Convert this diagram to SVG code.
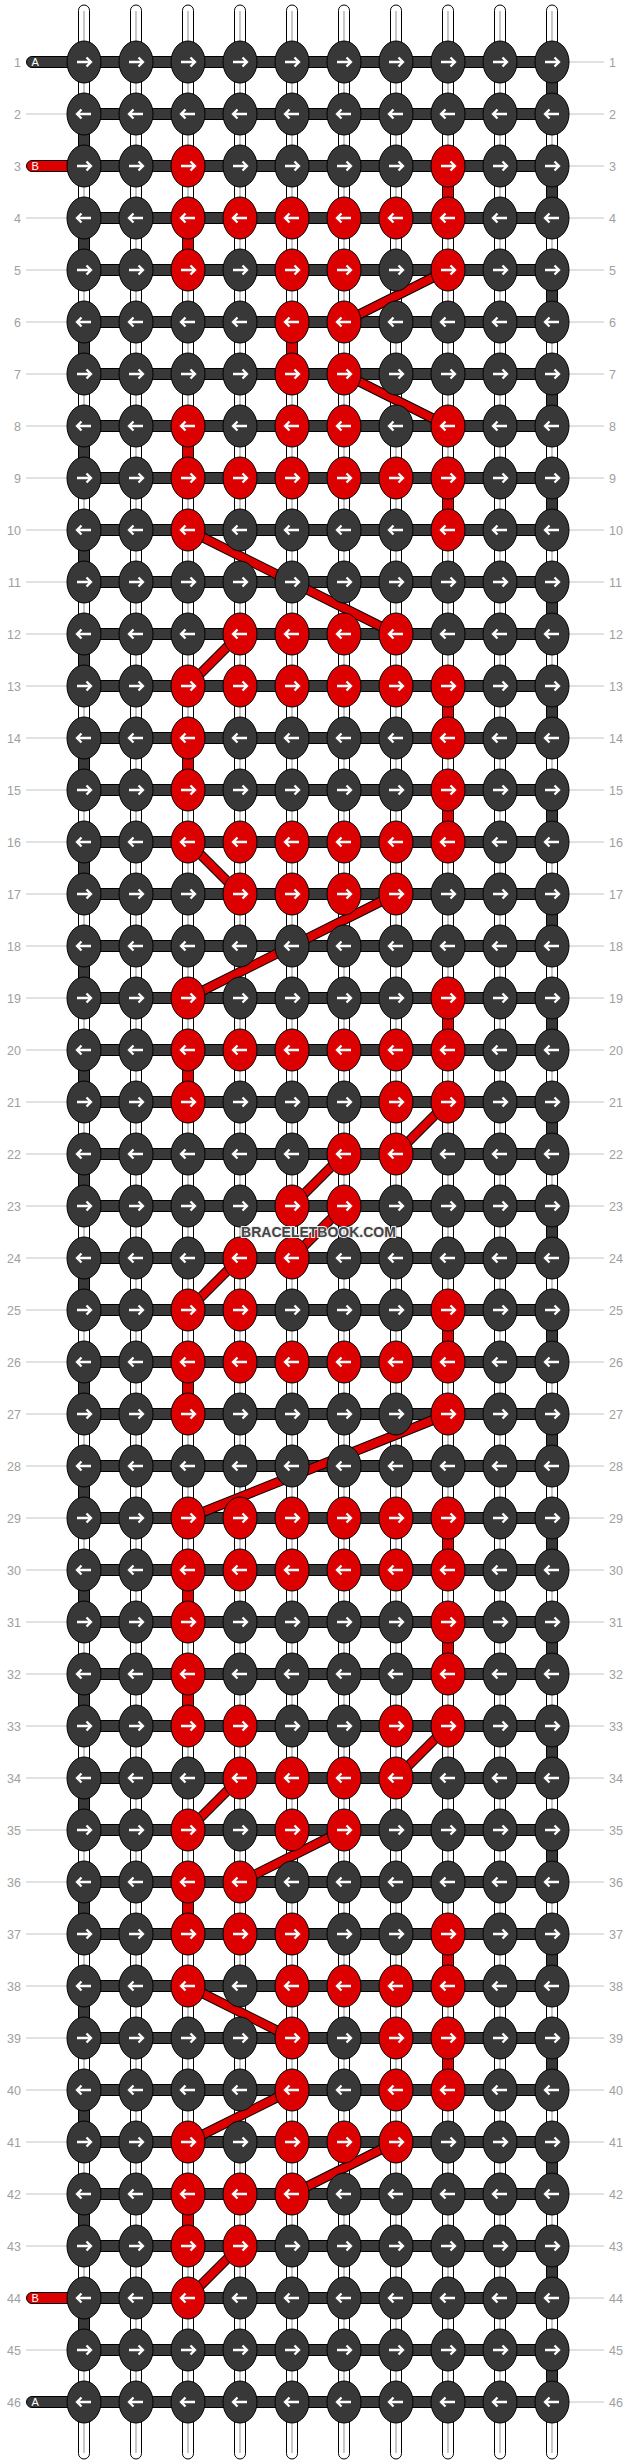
<svg xmlns="http://www.w3.org/2000/svg" xmlns:xlink="http://www.w3.org/1999/xlink" width="636" height="2464" viewBox="0 0 636 2464">
<style>
.st{fill:#fff;stroke:#000;stroke-width:1}
.sl{stroke:#aaa;stroke-width:1.3}
.hb{fill:#383838;stroke:#000;stroke-width:1}
.vd{fill:#383838;stroke:#000;stroke-width:1}
.vr{fill:#dd0000;stroke:#000;stroke-width:1}
.dk{fill:none;stroke:#000;stroke-width:10}
.dr{fill:none;stroke:#dd0000;stroke-width:8}
.gl{stroke:#c4c4c4;stroke-width:1}
.lb{font-family:"Liberation Sans",Arial,sans-serif;font-size:12.5px;fill:#a0a0a0}
.sa{fill:#383838;stroke:#000;stroke-width:1}
.sb{fill:#dd0000;stroke:#000;stroke-width:1}
.sx{font-family:"Liberation Sans",Arial,sans-serif;font-size:11px;fill:#fff}
.wm{font-family:"Liberation Sans",Arial,sans-serif;font-size:14px;font-weight:bold;fill:#444;stroke:#eee;stroke-width:2;paint-order:stroke}
</style>
<defs>
<ellipse id="E" rx="17" ry="21" stroke="#000" stroke-width="1"/>
<path id="R" d="M-7,0H6M2.5,-4.5L7,0L2.5,4.5" fill="none" stroke="#fff" stroke-width="2.3"/>
<path id="L" d="M7,0H-6M-2.5,-4.5L-7,0L-2.5,4.5" fill="none" stroke="#fff" stroke-width="2.3"/>
<g id="dR"><use href="#E" fill="#383838"/><use href="#R"/></g>
<g id="dL"><use href="#E" fill="#383838"/><use href="#L"/></g>
<g id="rR"><use href="#E" fill="#dd0000"/><use href="#R"/></g>
<g id="rL"><use href="#E" fill="#dd0000"/><use href="#L"/></g>
</defs>
<rect width="636" height="2464" fill="#fff"/>
<g id="labels">
<g class="gl">
<line x1="26" y1="114" x2="68" y2="114"/><line x1="26" y1="218" x2="68" y2="218"/><line x1="26" y1="270" x2="68" y2="270"/><line x1="26" y1="322" x2="68" y2="322"/><line x1="26" y1="374" x2="68" y2="374"/><line x1="26" y1="426" x2="68" y2="426"/><line x1="26" y1="478" x2="68" y2="478"/><line x1="26" y1="530" x2="68" y2="530"/><line x1="26" y1="582" x2="68" y2="582"/><line x1="26" y1="634" x2="68" y2="634"/><line x1="26" y1="686" x2="68" y2="686"/><line x1="26" y1="738" x2="68" y2="738"/><line x1="26" y1="790" x2="68" y2="790"/><line x1="26" y1="842" x2="68" y2="842"/><line x1="26" y1="894" x2="68" y2="894"/><line x1="26" y1="946" x2="68" y2="946"/><line x1="26" y1="998" x2="68" y2="998"/><line x1="26" y1="1050" x2="68" y2="1050"/><line x1="26" y1="1102" x2="68" y2="1102"/><line x1="26" y1="1154" x2="68" y2="1154"/><line x1="26" y1="1206" x2="68" y2="1206"/><line x1="26" y1="1258" x2="68" y2="1258"/><line x1="26" y1="1310" x2="68" y2="1310"/><line x1="26" y1="1362" x2="68" y2="1362"/><line x1="26" y1="1414" x2="68" y2="1414"/><line x1="26" y1="1466" x2="68" y2="1466"/><line x1="26" y1="1518" x2="68" y2="1518"/><line x1="26" y1="1570" x2="68" y2="1570"/><line x1="26" y1="1622" x2="68" y2="1622"/><line x1="26" y1="1674" x2="68" y2="1674"/><line x1="26" y1="1726" x2="68" y2="1726"/><line x1="26" y1="1778" x2="68" y2="1778"/><line x1="26" y1="1830" x2="68" y2="1830"/><line x1="26" y1="1882" x2="68" y2="1882"/><line x1="26" y1="1934" x2="68" y2="1934"/><line x1="26" y1="1986" x2="68" y2="1986"/><line x1="26" y1="2038" x2="68" y2="2038"/><line x1="26" y1="2090" x2="68" y2="2090"/><line x1="26" y1="2142" x2="68" y2="2142"/><line x1="26" y1="2194" x2="68" y2="2194"/><line x1="26" y1="2246" x2="68" y2="2246"/><line x1="26" y1="2350" x2="68" y2="2350"/>
<line x1="568" y1="62" x2="604" y2="62"/><line x1="568" y1="114" x2="604" y2="114"/><line x1="568" y1="166" x2="604" y2="166"/><line x1="568" y1="218" x2="604" y2="218"/><line x1="568" y1="270" x2="604" y2="270"/><line x1="568" y1="322" x2="604" y2="322"/><line x1="568" y1="374" x2="604" y2="374"/><line x1="568" y1="426" x2="604" y2="426"/><line x1="568" y1="478" x2="604" y2="478"/><line x1="568" y1="530" x2="604" y2="530"/><line x1="568" y1="582" x2="604" y2="582"/><line x1="568" y1="634" x2="604" y2="634"/><line x1="568" y1="686" x2="604" y2="686"/><line x1="568" y1="738" x2="604" y2="738"/><line x1="568" y1="790" x2="604" y2="790"/><line x1="568" y1="842" x2="604" y2="842"/><line x1="568" y1="894" x2="604" y2="894"/><line x1="568" y1="946" x2="604" y2="946"/><line x1="568" y1="998" x2="604" y2="998"/><line x1="568" y1="1050" x2="604" y2="1050"/><line x1="568" y1="1102" x2="604" y2="1102"/><line x1="568" y1="1154" x2="604" y2="1154"/><line x1="568" y1="1206" x2="604" y2="1206"/><line x1="568" y1="1258" x2="604" y2="1258"/><line x1="568" y1="1310" x2="604" y2="1310"/><line x1="568" y1="1362" x2="604" y2="1362"/><line x1="568" y1="1414" x2="604" y2="1414"/><line x1="568" y1="1466" x2="604" y2="1466"/><line x1="568" y1="1518" x2="604" y2="1518"/><line x1="568" y1="1570" x2="604" y2="1570"/><line x1="568" y1="1622" x2="604" y2="1622"/><line x1="568" y1="1674" x2="604" y2="1674"/><line x1="568" y1="1726" x2="604" y2="1726"/><line x1="568" y1="1778" x2="604" y2="1778"/><line x1="568" y1="1830" x2="604" y2="1830"/><line x1="568" y1="1882" x2="604" y2="1882"/><line x1="568" y1="1934" x2="604" y2="1934"/><line x1="568" y1="1986" x2="604" y2="1986"/><line x1="568" y1="2038" x2="604" y2="2038"/><line x1="568" y1="2090" x2="604" y2="2090"/><line x1="568" y1="2142" x2="604" y2="2142"/><line x1="568" y1="2194" x2="604" y2="2194"/><line x1="568" y1="2246" x2="604" y2="2246"/><line x1="568" y1="2298" x2="604" y2="2298"/><line x1="568" y1="2350" x2="604" y2="2350"/><line x1="568" y1="2402" x2="604" y2="2402"/>
</g>
<g class="lb" text-anchor="end">
<text x="21" y="66.5">1</text><text x="21" y="118.5">2</text><text x="21" y="170.5">3</text><text x="21" y="222.5">4</text><text x="21" y="274.5">5</text><text x="21" y="326.5">6</text><text x="21" y="378.5">7</text><text x="21" y="430.5">8</text><text x="21" y="482.5">9</text><text x="21" y="534.5">10</text><text x="21" y="586.5">11</text><text x="21" y="638.5">12</text><text x="21" y="690.5">13</text><text x="21" y="742.5">14</text><text x="21" y="794.5">15</text><text x="21" y="846.5">16</text><text x="21" y="898.5">17</text><text x="21" y="950.5">18</text><text x="21" y="1002.5">19</text><text x="21" y="1054.5">20</text><text x="21" y="1106.5">21</text><text x="21" y="1158.5">22</text><text x="21" y="1210.5">23</text><text x="21" y="1262.5">24</text><text x="21" y="1314.5">25</text><text x="21" y="1366.5">26</text><text x="21" y="1418.5">27</text><text x="21" y="1470.5">28</text><text x="21" y="1522.5">29</text><text x="21" y="1574.5">30</text><text x="21" y="1626.5">31</text><text x="21" y="1678.5">32</text><text x="21" y="1730.5">33</text><text x="21" y="1782.5">34</text><text x="21" y="1834.5">35</text><text x="21" y="1886.5">36</text><text x="21" y="1938.5">37</text><text x="21" y="1990.5">38</text><text x="21" y="2042.5">39</text><text x="21" y="2094.5">40</text><text x="21" y="2146.5">41</text><text x="21" y="2198.5">42</text><text x="21" y="2250.5">43</text><text x="21" y="2302.5">44</text><text x="21" y="2354.5">45</text><text x="21" y="2406.5">46</text>
</g>
<g class="lb">
<text x="609" y="66.5">1</text><text x="609" y="118.5">2</text><text x="609" y="170.5">3</text><text x="609" y="222.5">4</text><text x="609" y="274.5">5</text><text x="609" y="326.5">6</text><text x="609" y="378.5">7</text><text x="609" y="430.5">8</text><text x="609" y="482.5">9</text><text x="609" y="534.5">10</text><text x="609" y="586.5">11</text><text x="609" y="638.5">12</text><text x="609" y="690.5">13</text><text x="609" y="742.5">14</text><text x="609" y="794.5">15</text><text x="609" y="846.5">16</text><text x="609" y="898.5">17</text><text x="609" y="950.5">18</text><text x="609" y="1002.5">19</text><text x="609" y="1054.5">20</text><text x="609" y="1106.5">21</text><text x="609" y="1158.5">22</text><text x="609" y="1210.5">23</text><text x="609" y="1262.5">24</text><text x="609" y="1314.5">25</text><text x="609" y="1366.5">26</text><text x="609" y="1418.5">27</text><text x="609" y="1470.5">28</text><text x="609" y="1522.5">29</text><text x="609" y="1574.5">30</text><text x="609" y="1626.5">31</text><text x="609" y="1678.5">32</text><text x="609" y="1730.5">33</text><text x="609" y="1782.5">34</text><text x="609" y="1834.5">35</text><text x="609" y="1886.5">36</text><text x="609" y="1938.5">37</text><text x="609" y="1990.5">38</text><text x="609" y="2042.5">39</text><text x="609" y="2094.5">40</text><text x="609" y="2146.5">41</text><text x="609" y="2198.5">42</text><text x="609" y="2250.5">43</text><text x="609" y="2302.5">44</text><text x="609" y="2354.5">45</text><text x="609" y="2406.5">46</text>
</g>
</g>
<g id="strands">
<rect class="st" x="78.5" y="5" width="11" height="2454" rx="5.5"/><rect class="st" x="130.5" y="5" width="11" height="2454" rx="5.5"/><rect class="st" x="182.5" y="5" width="11" height="2454" rx="5.5"/><rect class="st" x="234.5" y="5" width="11" height="2454" rx="5.5"/><rect class="st" x="286.5" y="5" width="11" height="2454" rx="5.5"/><rect class="st" x="338.5" y="5" width="11" height="2454" rx="5.5"/><rect class="st" x="390.5" y="5" width="11" height="2454" rx="5.5"/><rect class="st" x="442.5" y="5" width="11" height="2454" rx="5.5"/><rect class="st" x="494.5" y="5" width="11" height="2454" rx="5.5"/><rect class="st" x="546.5" y="5" width="11" height="2454" rx="5.5"/>
<g class="sl"><line x1="84" y1="11" x2="84" y2="2453"/><line x1="136" y1="11" x2="136" y2="2453"/><line x1="188" y1="11" x2="188" y2="2453"/><line x1="240" y1="11" x2="240" y2="2453"/><line x1="292" y1="11" x2="292" y2="2453"/><line x1="344" y1="11" x2="344" y2="2453"/><line x1="396" y1="11" x2="396" y2="2453"/><line x1="448" y1="11" x2="448" y2="2453"/><line x1="500" y1="11" x2="500" y2="2453"/><line x1="552" y1="11" x2="552" y2="2453"/></g>
</g>
<g id="connectors">
<g id="stubs">
<rect class="sa" x="26.5" y="56.5" width="62" height="11" rx="5.5"/>
<rect class="sb" x="26.5" y="160.5" width="62" height="11" rx="5.5"/>
<rect class="sb" x="26.5" y="2292.5" width="62" height="11" rx="5.5"/>
<rect class="sa" x="26.5" y="2396.5" width="62" height="11" rx="5.5"/>
<text class="sx" x="31.5" y="66">A</text><text class="sx" x="31.5" y="170">B</text><text class="sx" x="31.5" y="2302">B</text><text class="sx" x="31.5" y="2406">A</text>
</g>
<g id="a-turns">
<rect class="vd" x="546.5" y="62" width="11" height="52"/><rect class="vd" x="78.5" y="114" width="11" height="52"/><rect class="vd" x="546.5" y="166" width="11" height="52"/><rect class="vd" x="78.5" y="218" width="11" height="52"/><rect class="vd" x="546.5" y="270" width="11" height="52"/><rect class="vd" x="78.5" y="322" width="11" height="52"/><rect class="vd" x="546.5" y="374" width="11" height="52"/><rect class="vd" x="78.5" y="426" width="11" height="52"/><rect class="vd" x="546.5" y="478" width="11" height="52"/><rect class="vd" x="78.5" y="530" width="11" height="52"/><rect class="vd" x="546.5" y="582" width="11" height="52"/><rect class="vd" x="78.5" y="634" width="11" height="52"/><rect class="vd" x="546.5" y="686" width="11" height="52"/><rect class="vd" x="78.5" y="738" width="11" height="52"/><rect class="vd" x="546.5" y="790" width="11" height="52"/><rect class="vd" x="78.5" y="842" width="11" height="52"/><rect class="vd" x="546.5" y="894" width="11" height="52"/><rect class="vd" x="78.5" y="946" width="11" height="52"/><rect class="vd" x="546.5" y="998" width="11" height="52"/><rect class="vd" x="78.5" y="1050" width="11" height="52"/><rect class="vd" x="546.5" y="1102" width="11" height="52"/><rect class="vd" x="78.5" y="1154" width="11" height="52"/><rect class="vd" x="546.5" y="1206" width="11" height="52"/><rect class="vd" x="78.5" y="1258" width="11" height="52"/><rect class="vd" x="546.5" y="1310" width="11" height="52"/><rect class="vd" x="78.5" y="1362" width="11" height="52"/><rect class="vd" x="546.5" y="1414" width="11" height="52"/><rect class="vd" x="78.5" y="1466" width="11" height="52"/><rect class="vd" x="546.5" y="1518" width="11" height="52"/><rect class="vd" x="78.5" y="1570" width="11" height="52"/><rect class="vd" x="546.5" y="1622" width="11" height="52"/><rect class="vd" x="78.5" y="1674" width="11" height="52"/><rect class="vd" x="546.5" y="1726" width="11" height="52"/><rect class="vd" x="78.5" y="1778" width="11" height="52"/><rect class="vd" x="546.5" y="1830" width="11" height="52"/><rect class="vd" x="78.5" y="1882" width="11" height="52"/><rect class="vd" x="546.5" y="1934" width="11" height="52"/><rect class="vd" x="78.5" y="1986" width="11" height="52"/><rect class="vd" x="546.5" y="2038" width="11" height="52"/><rect class="vd" x="78.5" y="2090" width="11" height="52"/><rect class="vd" x="546.5" y="2142" width="11" height="52"/><rect class="vd" x="78.5" y="2194" width="11" height="52"/><rect class="vd" x="546.5" y="2246" width="11" height="52"/><rect class="vd" x="78.5" y="2298" width="11" height="52"/><rect class="vd" x="546.5" y="2350" width="11" height="52"/>
</g>
<g id="b-turns">
<rect class="vr" x="442.5" y="166" width="11" height="52"/><rect class="vr" x="182.5" y="218" width="11" height="52"/><rect class="vr" x="286.5" y="322" width="11" height="52"/><rect class="vr" x="182.5" y="426" width="11" height="52"/><rect class="vr" x="442.5" y="478" width="11" height="52"/><rect class="vr" x="442.5" y="686" width="11" height="52"/><rect class="vr" x="182.5" y="738" width="11" height="52"/><rect class="vr" x="442.5" y="790" width="11" height="52"/><rect class="vr" x="442.5" y="998" width="11" height="52"/><rect class="vr" x="182.5" y="1050" width="11" height="52"/><rect class="vr" x="442.5" y="1310" width="11" height="52"/><rect class="vr" x="182.5" y="1362" width="11" height="52"/><rect class="vr" x="442.5" y="1518" width="11" height="52"/><rect class="vr" x="182.5" y="1570" width="11" height="52"/><rect class="vr" x="442.5" y="1622" width="11" height="52"/><rect class="vr" x="182.5" y="1674" width="11" height="52"/><rect class="vr" x="182.5" y="1882" width="11" height="52"/><rect class="vr" x="442.5" y="1934" width="11" height="52"/><rect class="vr" x="442.5" y="2038" width="11" height="52"/><rect class="vr" x="182.5" y="2194" width="11" height="52"/>
</g>
<g id="rows">
<rect class="hb" x="84" y="56.5" width="468" height="11"/><rect class="hb" x="84" y="108.5" width="468" height="11"/><rect class="hb" x="84" y="160.5" width="468" height="11"/><rect class="hb" x="84" y="212.5" width="468" height="11"/><rect class="hb" x="84" y="264.5" width="468" height="11"/><rect class="hb" x="84" y="316.5" width="468" height="11"/><rect class="hb" x="84" y="368.5" width="468" height="11"/><rect class="hb" x="84" y="420.5" width="468" height="11"/><rect class="hb" x="84" y="472.5" width="468" height="11"/><rect class="hb" x="84" y="524.5" width="468" height="11"/><rect class="hb" x="84" y="576.5" width="468" height="11"/><rect class="hb" x="84" y="628.5" width="468" height="11"/><rect class="hb" x="84" y="680.5" width="468" height="11"/><rect class="hb" x="84" y="732.5" width="468" height="11"/><rect class="hb" x="84" y="784.5" width="468" height="11"/><rect class="hb" x="84" y="836.5" width="468" height="11"/><rect class="hb" x="84" y="888.5" width="468" height="11"/><rect class="hb" x="84" y="940.5" width="468" height="11"/><rect class="hb" x="84" y="992.5" width="468" height="11"/><rect class="hb" x="84" y="1044.5" width="468" height="11"/><rect class="hb" x="84" y="1096.5" width="468" height="11"/><rect class="hb" x="84" y="1148.5" width="468" height="11"/><rect class="hb" x="84" y="1200.5" width="468" height="11"/><rect class="hb" x="84" y="1252.5" width="468" height="11"/><rect class="hb" x="84" y="1304.5" width="468" height="11"/><rect class="hb" x="84" y="1356.5" width="468" height="11"/><rect class="hb" x="84" y="1408.5" width="468" height="11"/><rect class="hb" x="84" y="1460.5" width="468" height="11"/><rect class="hb" x="84" y="1512.5" width="468" height="11"/><rect class="hb" x="84" y="1564.5" width="468" height="11"/><rect class="hb" x="84" y="1616.5" width="468" height="11"/><rect class="hb" x="84" y="1668.5" width="468" height="11"/><rect class="hb" x="84" y="1720.5" width="468" height="11"/><rect class="hb" x="84" y="1772.5" width="468" height="11"/><rect class="hb" x="84" y="1824.5" width="468" height="11"/><rect class="hb" x="84" y="1876.5" width="468" height="11"/><rect class="hb" x="84" y="1928.5" width="468" height="11"/><rect class="hb" x="84" y="1980.5" width="468" height="11"/><rect class="hb" x="84" y="2032.5" width="468" height="11"/><rect class="hb" x="84" y="2084.5" width="468" height="11"/><rect class="hb" x="84" y="2136.5" width="468" height="11"/><rect class="hb" x="84" y="2188.5" width="468" height="11"/><rect class="hb" x="84" y="2240.5" width="468" height="11"/><rect class="hb" x="84" y="2292.5" width="468" height="11"/><rect class="hb" x="84" y="2344.5" width="468" height="11"/><rect class="hb" x="84" y="2396.5" width="468" height="11"/>
</g>
<g id="b-diagonals">
<path class="dk" d="M448,270L344,322M344,374L448,426M188,530L396,634M240,634L188,686M188,842L240,894M396,894L188,998M448,1102L396,1154M344,1154L292,1206M344,1206L292,1258M240,1258L188,1310M448,1414L188,1518M448,1726L396,1778M240,1778L188,1830M344,1830L240,1882M188,1986L292,2038M292,2090L188,2142M396,2142L292,2194M240,2246L188,2298"/>
<path class="dr" d="M448,270L344,322M344,374L448,426M188,530L396,634M240,634L188,686M188,842L240,894M396,894L188,998M448,1102L396,1154M344,1154L292,1206M344,1206L292,1258M240,1258L188,1310M448,1414L188,1518M448,1726L396,1778M240,1778L188,1830M344,1830L240,1882M188,1986L292,2038M292,2090L188,2142M396,2142L292,2194M240,2246L188,2298"/>
</g>
</g>
<g id="knots">
<g transform="translate(0,62)"><g id="n1-1"><use href="#dR" x="84"/></g><g id="n1-2"><use href="#dR" x="136"/></g><g id="n1-3"><use href="#dR" x="188"/></g><g id="n1-4"><use href="#dR" x="240"/></g><g id="n1-5"><use href="#dR" x="292"/></g><g id="n1-6"><use href="#dR" x="344"/></g><g id="n1-7"><use href="#dR" x="396"/></g><g id="n1-8"><use href="#dR" x="448"/></g><g id="n1-9"><use href="#dR" x="500"/></g><g id="n1-10"><use href="#dR" x="552"/></g></g>
<g transform="translate(0,114)"><g id="n2-1"><use href="#dL" x="84"/></g><g id="n2-2"><use href="#dL" x="136"/></g><g id="n2-3"><use href="#dL" x="188"/></g><g id="n2-4"><use href="#dL" x="240"/></g><g id="n2-5"><use href="#dL" x="292"/></g><g id="n2-6"><use href="#dL" x="344"/></g><g id="n2-7"><use href="#dL" x="396"/></g><g id="n2-8"><use href="#dL" x="448"/></g><g id="n2-9"><use href="#dL" x="500"/></g><g id="n2-10"><use href="#dL" x="552"/></g></g>
<g transform="translate(0,166)"><g id="n3-1"><use href="#dR" x="84"/></g><g id="n3-2"><use href="#dR" x="136"/></g><g id="n3-3"><use href="#rR" x="188"/></g><g id="n3-4"><use href="#dR" x="240"/></g><g id="n3-5"><use href="#dR" x="292"/></g><g id="n3-6"><use href="#dR" x="344"/></g><g id="n3-7"><use href="#dR" x="396"/></g><g id="n3-8"><use href="#rR" x="448"/></g><g id="n3-9"><use href="#dR" x="500"/></g><g id="n3-10"><use href="#dR" x="552"/></g></g>
<g transform="translate(0,218)"><g id="n4-1"><use href="#dL" x="84"/></g><g id="n4-2"><use href="#dL" x="136"/></g><g id="n4-3"><use href="#rL" x="188"/></g><g id="n4-4"><use href="#rL" x="240"/></g><g id="n4-5"><use href="#rL" x="292"/></g><g id="n4-6"><use href="#rL" x="344"/></g><g id="n4-7"><use href="#rL" x="396"/></g><g id="n4-8"><use href="#rL" x="448"/></g><g id="n4-9"><use href="#dL" x="500"/></g><g id="n4-10"><use href="#dL" x="552"/></g></g>
<g transform="translate(0,270)"><g id="n5-1"><use href="#dR" x="84"/></g><g id="n5-2"><use href="#dR" x="136"/></g><g id="n5-3"><use href="#rR" x="188"/></g><g id="n5-4"><use href="#dR" x="240"/></g><g id="n5-5"><use href="#rR" x="292"/></g><g id="n5-6"><use href="#rR" x="344"/></g><g id="n5-7"><use href="#dR" x="396"/></g><g id="n5-8"><use href="#rR" x="448"/></g><g id="n5-9"><use href="#dR" x="500"/></g><g id="n5-10"><use href="#dR" x="552"/></g></g>
<g transform="translate(0,322)"><g id="n6-1"><use href="#dL" x="84"/></g><g id="n6-2"><use href="#dL" x="136"/></g><g id="n6-3"><use href="#dL" x="188"/></g><g id="n6-4"><use href="#dL" x="240"/></g><g id="n6-5"><use href="#rL" x="292"/></g><g id="n6-6"><use href="#rL" x="344"/></g><g id="n6-7"><use href="#dL" x="396"/></g><g id="n6-8"><use href="#dL" x="448"/></g><g id="n6-9"><use href="#dL" x="500"/></g><g id="n6-10"><use href="#dL" x="552"/></g></g>
<g transform="translate(0,374)"><g id="n7-1"><use href="#dR" x="84"/></g><g id="n7-2"><use href="#dR" x="136"/></g><g id="n7-3"><use href="#dR" x="188"/></g><g id="n7-4"><use href="#dR" x="240"/></g><g id="n7-5"><use href="#rR" x="292"/></g><g id="n7-6"><use href="#rR" x="344"/></g><g id="n7-7"><use href="#dR" x="396"/></g><g id="n7-8"><use href="#dR" x="448"/></g><g id="n7-9"><use href="#dR" x="500"/></g><g id="n7-10"><use href="#dR" x="552"/></g></g>
<g transform="translate(0,426)"><g id="n8-1"><use href="#dL" x="84"/></g><g id="n8-2"><use href="#dL" x="136"/></g><g id="n8-3"><use href="#rL" x="188"/></g><g id="n8-4"><use href="#dL" x="240"/></g><g id="n8-5"><use href="#rL" x="292"/></g><g id="n8-6"><use href="#rL" x="344"/></g><g id="n8-7"><use href="#dL" x="396"/></g><g id="n8-8"><use href="#rL" x="448"/></g><g id="n8-9"><use href="#dL" x="500"/></g><g id="n8-10"><use href="#dL" x="552"/></g></g>
<g transform="translate(0,478)"><g id="n9-1"><use href="#dR" x="84"/></g><g id="n9-2"><use href="#dR" x="136"/></g><g id="n9-3"><use href="#rR" x="188"/></g><g id="n9-4"><use href="#rR" x="240"/></g><g id="n9-5"><use href="#rR" x="292"/></g><g id="n9-6"><use href="#rR" x="344"/></g><g id="n9-7"><use href="#rR" x="396"/></g><g id="n9-8"><use href="#rR" x="448"/></g><g id="n9-9"><use href="#dR" x="500"/></g><g id="n9-10"><use href="#dR" x="552"/></g></g>
<g transform="translate(0,530)"><g id="n10-1"><use href="#dL" x="84"/></g><g id="n10-2"><use href="#dL" x="136"/></g><g id="n10-3"><use href="#rL" x="188"/></g><g id="n10-4"><use href="#dL" x="240"/></g><g id="n10-5"><use href="#dL" x="292"/></g><g id="n10-6"><use href="#dL" x="344"/></g><g id="n10-7"><use href="#dL" x="396"/></g><g id="n10-8"><use href="#rL" x="448"/></g><g id="n10-9"><use href="#dL" x="500"/></g><g id="n10-10"><use href="#dL" x="552"/></g></g>
<g transform="translate(0,582)"><g id="n11-1"><use href="#dR" x="84"/></g><g id="n11-2"><use href="#dR" x="136"/></g><g id="n11-3"><use href="#dR" x="188"/></g><g id="n11-4"><use href="#dR" x="240"/></g><g id="n11-5"><use href="#dR" x="292"/></g><g id="n11-6"><use href="#dR" x="344"/></g><g id="n11-7"><use href="#dR" x="396"/></g><g id="n11-8"><use href="#dR" x="448"/></g><g id="n11-9"><use href="#dR" x="500"/></g><g id="n11-10"><use href="#dR" x="552"/></g></g>
<g transform="translate(0,634)"><g id="n12-1"><use href="#dL" x="84"/></g><g id="n12-2"><use href="#dL" x="136"/></g><g id="n12-3"><use href="#dL" x="188"/></g><g id="n12-4"><use href="#rL" x="240"/></g><g id="n12-5"><use href="#rL" x="292"/></g><g id="n12-6"><use href="#rL" x="344"/></g><g id="n12-7"><use href="#rL" x="396"/></g><g id="n12-8"><use href="#dL" x="448"/></g><g id="n12-9"><use href="#dL" x="500"/></g><g id="n12-10"><use href="#dL" x="552"/></g></g>
<g transform="translate(0,686)"><g id="n13-1"><use href="#dR" x="84"/></g><g id="n13-2"><use href="#dR" x="136"/></g><g id="n13-3"><use href="#rR" x="188"/></g><g id="n13-4"><use href="#rR" x="240"/></g><g id="n13-5"><use href="#rR" x="292"/></g><g id="n13-6"><use href="#rR" x="344"/></g><g id="n13-7"><use href="#rR" x="396"/></g><g id="n13-8"><use href="#rR" x="448"/></g><g id="n13-9"><use href="#dR" x="500"/></g><g id="n13-10"><use href="#dR" x="552"/></g></g>
<g transform="translate(0,738)"><g id="n14-1"><use href="#dL" x="84"/></g><g id="n14-2"><use href="#dL" x="136"/></g><g id="n14-3"><use href="#rL" x="188"/></g><g id="n14-4"><use href="#dL" x="240"/></g><g id="n14-5"><use href="#dL" x="292"/></g><g id="n14-6"><use href="#dL" x="344"/></g><g id="n14-7"><use href="#dL" x="396"/></g><g id="n14-8"><use href="#rL" x="448"/></g><g id="n14-9"><use href="#dL" x="500"/></g><g id="n14-10"><use href="#dL" x="552"/></g></g>
<g transform="translate(0,790)"><g id="n15-1"><use href="#dR" x="84"/></g><g id="n15-2"><use href="#dR" x="136"/></g><g id="n15-3"><use href="#rR" x="188"/></g><g id="n15-4"><use href="#dR" x="240"/></g><g id="n15-5"><use href="#dR" x="292"/></g><g id="n15-6"><use href="#dR" x="344"/></g><g id="n15-7"><use href="#dR" x="396"/></g><g id="n15-8"><use href="#rR" x="448"/></g><g id="n15-9"><use href="#dR" x="500"/></g><g id="n15-10"><use href="#dR" x="552"/></g></g>
<g transform="translate(0,842)"><g id="n16-1"><use href="#dL" x="84"/></g><g id="n16-2"><use href="#dL" x="136"/></g><g id="n16-3"><use href="#rL" x="188"/></g><g id="n16-4"><use href="#rL" x="240"/></g><g id="n16-5"><use href="#rL" x="292"/></g><g id="n16-6"><use href="#rL" x="344"/></g><g id="n16-7"><use href="#rL" x="396"/></g><g id="n16-8"><use href="#rL" x="448"/></g><g id="n16-9"><use href="#dL" x="500"/></g><g id="n16-10"><use href="#dL" x="552"/></g></g>
<g transform="translate(0,894)"><g id="n17-1"><use href="#dR" x="84"/></g><g id="n17-2"><use href="#dR" x="136"/></g><g id="n17-3"><use href="#dR" x="188"/></g><g id="n17-4"><use href="#rR" x="240"/></g><g id="n17-5"><use href="#rR" x="292"/></g><g id="n17-6"><use href="#rR" x="344"/></g><g id="n17-7"><use href="#rR" x="396"/></g><g id="n17-8"><use href="#dR" x="448"/></g><g id="n17-9"><use href="#dR" x="500"/></g><g id="n17-10"><use href="#dR" x="552"/></g></g>
<g transform="translate(0,946)"><g id="n18-1"><use href="#dL" x="84"/></g><g id="n18-2"><use href="#dL" x="136"/></g><g id="n18-3"><use href="#dL" x="188"/></g><g id="n18-4"><use href="#dL" x="240"/></g><g id="n18-5"><use href="#dL" x="292"/></g><g id="n18-6"><use href="#dL" x="344"/></g><g id="n18-7"><use href="#dL" x="396"/></g><g id="n18-8"><use href="#dL" x="448"/></g><g id="n18-9"><use href="#dL" x="500"/></g><g id="n18-10"><use href="#dL" x="552"/></g></g>
<g transform="translate(0,998)"><g id="n19-1"><use href="#dR" x="84"/></g><g id="n19-2"><use href="#dR" x="136"/></g><g id="n19-3"><use href="#rR" x="188"/></g><g id="n19-4"><use href="#dR" x="240"/></g><g id="n19-5"><use href="#dR" x="292"/></g><g id="n19-6"><use href="#dR" x="344"/></g><g id="n19-7"><use href="#dR" x="396"/></g><g id="n19-8"><use href="#rR" x="448"/></g><g id="n19-9"><use href="#dR" x="500"/></g><g id="n19-10"><use href="#dR" x="552"/></g></g>
<g transform="translate(0,1050)"><g id="n20-1"><use href="#dL" x="84"/></g><g id="n20-2"><use href="#dL" x="136"/></g><g id="n20-3"><use href="#rL" x="188"/></g><g id="n20-4"><use href="#rL" x="240"/></g><g id="n20-5"><use href="#rL" x="292"/></g><g id="n20-6"><use href="#rL" x="344"/></g><g id="n20-7"><use href="#rL" x="396"/></g><g id="n20-8"><use href="#rL" x="448"/></g><g id="n20-9"><use href="#dL" x="500"/></g><g id="n20-10"><use href="#dL" x="552"/></g></g>
<g transform="translate(0,1102)"><g id="n21-1"><use href="#dR" x="84"/></g><g id="n21-2"><use href="#dR" x="136"/></g><g id="n21-3"><use href="#rR" x="188"/></g><g id="n21-4"><use href="#dR" x="240"/></g><g id="n21-5"><use href="#dR" x="292"/></g><g id="n21-6"><use href="#dR" x="344"/></g><g id="n21-7"><use href="#rR" x="396"/></g><g id="n21-8"><use href="#rR" x="448"/></g><g id="n21-9"><use href="#dR" x="500"/></g><g id="n21-10"><use href="#dR" x="552"/></g></g>
<g transform="translate(0,1154)"><g id="n22-1"><use href="#dL" x="84"/></g><g id="n22-2"><use href="#dL" x="136"/></g><g id="n22-3"><use href="#dL" x="188"/></g><g id="n22-4"><use href="#dL" x="240"/></g><g id="n22-5"><use href="#dL" x="292"/></g><g id="n22-6"><use href="#rL" x="344"/></g><g id="n22-7"><use href="#rL" x="396"/></g><g id="n22-8"><use href="#dL" x="448"/></g><g id="n22-9"><use href="#dL" x="500"/></g><g id="n22-10"><use href="#dL" x="552"/></g></g>
<g transform="translate(0,1206)"><g id="n23-1"><use href="#dR" x="84"/></g><g id="n23-2"><use href="#dR" x="136"/></g><g id="n23-3"><use href="#dR" x="188"/></g><g id="n23-4"><use href="#dR" x="240"/></g><g id="n23-5"><use href="#rR" x="292"/></g><g id="n23-6"><use href="#rR" x="344"/></g><g id="n23-7"><use href="#dR" x="396"/></g><g id="n23-8"><use href="#dR" x="448"/></g><g id="n23-9"><use href="#dR" x="500"/></g><g id="n23-10"><use href="#dR" x="552"/></g></g>
<g transform="translate(0,1258)"><g id="n24-1"><use href="#dL" x="84"/></g><g id="n24-2"><use href="#dL" x="136"/></g><g id="n24-3"><use href="#dL" x="188"/></g><g id="n24-4"><use href="#rL" x="240"/></g><g id="n24-5"><use href="#rL" x="292"/></g><g id="n24-6"><use href="#dL" x="344"/></g><g id="n24-7"><use href="#dL" x="396"/></g><g id="n24-8"><use href="#dL" x="448"/></g><g id="n24-9"><use href="#dL" x="500"/></g><g id="n24-10"><use href="#dL" x="552"/></g></g>
<g transform="translate(0,1310)"><g id="n25-1"><use href="#dR" x="84"/></g><g id="n25-2"><use href="#dR" x="136"/></g><g id="n25-3"><use href="#rR" x="188"/></g><g id="n25-4"><use href="#rR" x="240"/></g><g id="n25-5"><use href="#dR" x="292"/></g><g id="n25-6"><use href="#dR" x="344"/></g><g id="n25-7"><use href="#dR" x="396"/></g><g id="n25-8"><use href="#rR" x="448"/></g><g id="n25-9"><use href="#dR" x="500"/></g><g id="n25-10"><use href="#dR" x="552"/></g></g>
<g transform="translate(0,1362)"><g id="n26-1"><use href="#dL" x="84"/></g><g id="n26-2"><use href="#dL" x="136"/></g><g id="n26-3"><use href="#rL" x="188"/></g><g id="n26-4"><use href="#rL" x="240"/></g><g id="n26-5"><use href="#rL" x="292"/></g><g id="n26-6"><use href="#rL" x="344"/></g><g id="n26-7"><use href="#rL" x="396"/></g><g id="n26-8"><use href="#rL" x="448"/></g><g id="n26-9"><use href="#dL" x="500"/></g><g id="n26-10"><use href="#dL" x="552"/></g></g>
<g transform="translate(0,1414)"><g id="n27-1"><use href="#dR" x="84"/></g><g id="n27-2"><use href="#dR" x="136"/></g><g id="n27-3"><use href="#rR" x="188"/></g><g id="n27-4"><use href="#dR" x="240"/></g><g id="n27-5"><use href="#dR" x="292"/></g><g id="n27-6"><use href="#dR" x="344"/></g><g id="n27-7"><use href="#dR" x="396"/></g><g id="n27-8"><use href="#rR" x="448"/></g><g id="n27-9"><use href="#dR" x="500"/></g><g id="n27-10"><use href="#dR" x="552"/></g></g>
<g transform="translate(0,1466)"><g id="n28-1"><use href="#dL" x="84"/></g><g id="n28-2"><use href="#dL" x="136"/></g><g id="n28-3"><use href="#dL" x="188"/></g><g id="n28-4"><use href="#dL" x="240"/></g><g id="n28-5"><use href="#dL" x="292"/></g><g id="n28-6"><use href="#dL" x="344"/></g><g id="n28-7"><use href="#dL" x="396"/></g><g id="n28-8"><use href="#dL" x="448"/></g><g id="n28-9"><use href="#dL" x="500"/></g><g id="n28-10"><use href="#dL" x="552"/></g></g>
<g transform="translate(0,1518)"><g id="n29-1"><use href="#dR" x="84"/></g><g id="n29-2"><use href="#dR" x="136"/></g><g id="n29-3"><use href="#rR" x="188"/></g><g id="n29-4"><use href="#rR" x="240"/></g><g id="n29-5"><use href="#rR" x="292"/></g><g id="n29-6"><use href="#rR" x="344"/></g><g id="n29-7"><use href="#rR" x="396"/></g><g id="n29-8"><use href="#rR" x="448"/></g><g id="n29-9"><use href="#dR" x="500"/></g><g id="n29-10"><use href="#dR" x="552"/></g></g>
<g transform="translate(0,1570)"><g id="n30-1"><use href="#dL" x="84"/></g><g id="n30-2"><use href="#dL" x="136"/></g><g id="n30-3"><use href="#rL" x="188"/></g><g id="n30-4"><use href="#rL" x="240"/></g><g id="n30-5"><use href="#rL" x="292"/></g><g id="n30-6"><use href="#rL" x="344"/></g><g id="n30-7"><use href="#rL" x="396"/></g><g id="n30-8"><use href="#rL" x="448"/></g><g id="n30-9"><use href="#dL" x="500"/></g><g id="n30-10"><use href="#dL" x="552"/></g></g>
<g transform="translate(0,1622)"><g id="n31-1"><use href="#dR" x="84"/></g><g id="n31-2"><use href="#dR" x="136"/></g><g id="n31-3"><use href="#rR" x="188"/></g><g id="n31-4"><use href="#dR" x="240"/></g><g id="n31-5"><use href="#dR" x="292"/></g><g id="n31-6"><use href="#dR" x="344"/></g><g id="n31-7"><use href="#dR" x="396"/></g><g id="n31-8"><use href="#rR" x="448"/></g><g id="n31-9"><use href="#dR" x="500"/></g><g id="n31-10"><use href="#dR" x="552"/></g></g>
<g transform="translate(0,1674)"><g id="n32-1"><use href="#dL" x="84"/></g><g id="n32-2"><use href="#dL" x="136"/></g><g id="n32-3"><use href="#rL" x="188"/></g><g id="n32-4"><use href="#dL" x="240"/></g><g id="n32-5"><use href="#dL" x="292"/></g><g id="n32-6"><use href="#dL" x="344"/></g><g id="n32-7"><use href="#dL" x="396"/></g><g id="n32-8"><use href="#rL" x="448"/></g><g id="n32-9"><use href="#dL" x="500"/></g><g id="n32-10"><use href="#dL" x="552"/></g></g>
<g transform="translate(0,1726)"><g id="n33-1"><use href="#dR" x="84"/></g><g id="n33-2"><use href="#dR" x="136"/></g><g id="n33-3"><use href="#rR" x="188"/></g><g id="n33-4"><use href="#rR" x="240"/></g><g id="n33-5"><use href="#dR" x="292"/></g><g id="n33-6"><use href="#dR" x="344"/></g><g id="n33-7"><use href="#rR" x="396"/></g><g id="n33-8"><use href="#rR" x="448"/></g><g id="n33-9"><use href="#dR" x="500"/></g><g id="n33-10"><use href="#dR" x="552"/></g></g>
<g transform="translate(0,1778)"><g id="n34-1"><use href="#dL" x="84"/></g><g id="n34-2"><use href="#dL" x="136"/></g><g id="n34-3"><use href="#dL" x="188"/></g><g id="n34-4"><use href="#rL" x="240"/></g><g id="n34-5"><use href="#rL" x="292"/></g><g id="n34-6"><use href="#rL" x="344"/></g><g id="n34-7"><use href="#rL" x="396"/></g><g id="n34-8"><use href="#dL" x="448"/></g><g id="n34-9"><use href="#dL" x="500"/></g><g id="n34-10"><use href="#dL" x="552"/></g></g>
<g transform="translate(0,1830)"><g id="n35-1"><use href="#dR" x="84"/></g><g id="n35-2"><use href="#dR" x="136"/></g><g id="n35-3"><use href="#rR" x="188"/></g><g id="n35-4"><use href="#dR" x="240"/></g><g id="n35-5"><use href="#rR" x="292"/></g><g id="n35-6"><use href="#rR" x="344"/></g><g id="n35-7"><use href="#dR" x="396"/></g><g id="n35-8"><use href="#dR" x="448"/></g><g id="n35-9"><use href="#dR" x="500"/></g><g id="n35-10"><use href="#dR" x="552"/></g></g>
<g transform="translate(0,1882)"><g id="n36-1"><use href="#dL" x="84"/></g><g id="n36-2"><use href="#dL" x="136"/></g><g id="n36-3"><use href="#rL" x="188"/></g><g id="n36-4"><use href="#rL" x="240"/></g><g id="n36-5"><use href="#dL" x="292"/></g><g id="n36-6"><use href="#dL" x="344"/></g><g id="n36-7"><use href="#dL" x="396"/></g><g id="n36-8"><use href="#dL" x="448"/></g><g id="n36-9"><use href="#dL" x="500"/></g><g id="n36-10"><use href="#dL" x="552"/></g></g>
<g transform="translate(0,1934)"><g id="n37-1"><use href="#dR" x="84"/></g><g id="n37-2"><use href="#dR" x="136"/></g><g id="n37-3"><use href="#rR" x="188"/></g><g id="n37-4"><use href="#rR" x="240"/></g><g id="n37-5"><use href="#rR" x="292"/></g><g id="n37-6"><use href="#dR" x="344"/></g><g id="n37-7"><use href="#dR" x="396"/></g><g id="n37-8"><use href="#rR" x="448"/></g><g id="n37-9"><use href="#dR" x="500"/></g><g id="n37-10"><use href="#dR" x="552"/></g></g>
<g transform="translate(0,1986)"><g id="n38-1"><use href="#dL" x="84"/></g><g id="n38-2"><use href="#dL" x="136"/></g><g id="n38-3"><use href="#rL" x="188"/></g><g id="n38-4"><use href="#dL" x="240"/></g><g id="n38-5"><use href="#rL" x="292"/></g><g id="n38-6"><use href="#rL" x="344"/></g><g id="n38-7"><use href="#rL" x="396"/></g><g id="n38-8"><use href="#rL" x="448"/></g><g id="n38-9"><use href="#dL" x="500"/></g><g id="n38-10"><use href="#dL" x="552"/></g></g>
<g transform="translate(0,2038)"><g id="n39-1"><use href="#dR" x="84"/></g><g id="n39-2"><use href="#dR" x="136"/></g><g id="n39-3"><use href="#dR" x="188"/></g><g id="n39-4"><use href="#dR" x="240"/></g><g id="n39-5"><use href="#rR" x="292"/></g><g id="n39-6"><use href="#dR" x="344"/></g><g id="n39-7"><use href="#rR" x="396"/></g><g id="n39-8"><use href="#rR" x="448"/></g><g id="n39-9"><use href="#dR" x="500"/></g><g id="n39-10"><use href="#dR" x="552"/></g></g>
<g transform="translate(0,2090)"><g id="n40-1"><use href="#dL" x="84"/></g><g id="n40-2"><use href="#dL" x="136"/></g><g id="n40-3"><use href="#dL" x="188"/></g><g id="n40-4"><use href="#dL" x="240"/></g><g id="n40-5"><use href="#rL" x="292"/></g><g id="n40-6"><use href="#dL" x="344"/></g><g id="n40-7"><use href="#rL" x="396"/></g><g id="n40-8"><use href="#rL" x="448"/></g><g id="n40-9"><use href="#dL" x="500"/></g><g id="n40-10"><use href="#dL" x="552"/></g></g>
<g transform="translate(0,2142)"><g id="n41-1"><use href="#dR" x="84"/></g><g id="n41-2"><use href="#dR" x="136"/></g><g id="n41-3"><use href="#rR" x="188"/></g><g id="n41-4"><use href="#dR" x="240"/></g><g id="n41-5"><use href="#rR" x="292"/></g><g id="n41-6"><use href="#rR" x="344"/></g><g id="n41-7"><use href="#rR" x="396"/></g><g id="n41-8"><use href="#dR" x="448"/></g><g id="n41-9"><use href="#dR" x="500"/></g><g id="n41-10"><use href="#dR" x="552"/></g></g>
<g transform="translate(0,2194)"><g id="n42-1"><use href="#dL" x="84"/></g><g id="n42-2"><use href="#dL" x="136"/></g><g id="n42-3"><use href="#rL" x="188"/></g><g id="n42-4"><use href="#rL" x="240"/></g><g id="n42-5"><use href="#rL" x="292"/></g><g id="n42-6"><use href="#dL" x="344"/></g><g id="n42-7"><use href="#dL" x="396"/></g><g id="n42-8"><use href="#dL" x="448"/></g><g id="n42-9"><use href="#dL" x="500"/></g><g id="n42-10"><use href="#dL" x="552"/></g></g>
<g transform="translate(0,2246)"><g id="n43-1"><use href="#dR" x="84"/></g><g id="n43-2"><use href="#dR" x="136"/></g><g id="n43-3"><use href="#rR" x="188"/></g><g id="n43-4"><use href="#rR" x="240"/></g><g id="n43-5"><use href="#dR" x="292"/></g><g id="n43-6"><use href="#dR" x="344"/></g><g id="n43-7"><use href="#dR" x="396"/></g><g id="n43-8"><use href="#dR" x="448"/></g><g id="n43-9"><use href="#dR" x="500"/></g><g id="n43-10"><use href="#dR" x="552"/></g></g>
<g transform="translate(0,2298)"><g id="n44-1"><use href="#dL" x="84"/></g><g id="n44-2"><use href="#dL" x="136"/></g><g id="n44-3"><use href="#rL" x="188"/></g><g id="n44-4"><use href="#dL" x="240"/></g><g id="n44-5"><use href="#dL" x="292"/></g><g id="n44-6"><use href="#dL" x="344"/></g><g id="n44-7"><use href="#dL" x="396"/></g><g id="n44-8"><use href="#dL" x="448"/></g><g id="n44-9"><use href="#dL" x="500"/></g><g id="n44-10"><use href="#dL" x="552"/></g></g>
<g transform="translate(0,2350)"><g id="n45-1"><use href="#dR" x="84"/></g><g id="n45-2"><use href="#dR" x="136"/></g><g id="n45-3"><use href="#dR" x="188"/></g><g id="n45-4"><use href="#dR" x="240"/></g><g id="n45-5"><use href="#dR" x="292"/></g><g id="n45-6"><use href="#dR" x="344"/></g><g id="n45-7"><use href="#dR" x="396"/></g><g id="n45-8"><use href="#dR" x="448"/></g><g id="n45-9"><use href="#dR" x="500"/></g><g id="n45-10"><use href="#dR" x="552"/></g></g>
<g transform="translate(0,2402)"><g id="n46-1"><use href="#dL" x="84"/></g><g id="n46-2"><use href="#dL" x="136"/></g><g id="n46-3"><use href="#dL" x="188"/></g><g id="n46-4"><use href="#dL" x="240"/></g><g id="n46-5"><use href="#dL" x="292"/></g><g id="n46-6"><use href="#dL" x="344"/></g><g id="n46-7"><use href="#dL" x="396"/></g><g id="n46-8"><use href="#dL" x="448"/></g><g id="n46-9"><use href="#dL" x="500"/></g><g id="n46-10"><use href="#dL" x="552"/></g></g>
</g>
<text class="wm" x="318.5" y="1236.5" text-anchor="middle">BRACELETBOOK.COM</text>
</svg>
